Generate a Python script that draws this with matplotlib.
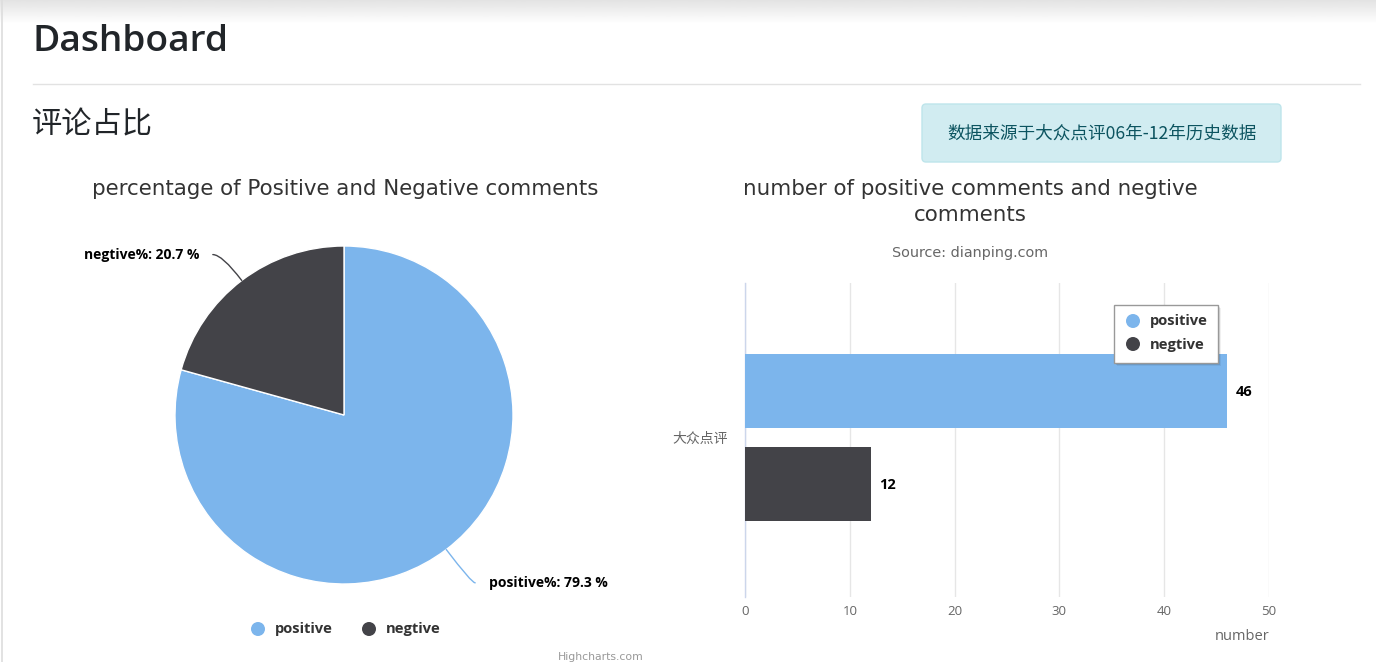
import matplotlib
matplotlib.use('Agg')
import matplotlib.pyplot as plt
import numpy as np
from matplotlib.patches import FancyBboxPatch, Rectangle, Circle

# ---------------- data ----------------
category_labels = ['大众点评']
series_names = ['positive', 'negtive']
series_values = [46, 12]
series_colors = ['#7cb5ec', '#434348']
pie_label_names = ['positive%', 'negtive%']
x_ticks = [0, 10, 20, 30, 40, 50]

page_title = 'Dashboard'
section_title = '评论占比'
info_text = '数据来源于大众点评06年-12年历史数据'
pie_title = 'percentage of Positive and Negative comments'
bar_title_lines = ['number of positive comments and negtive', 'comments']
bar_subtitle = 'Source: dianping.com'
bar_axis_title = 'number'
credit_text = 'Highcharts.com'

plt.rcParams['font.family'] = ['Open Sans', 'Noto Sans CJK SC', 'DejaVu Sans']
CJK = ['Noto Sans CJK SC', 'DejaVu Sans']
TITLEF = ['DejaVu Sans']

W, H = 1376, 662
fig = plt.figure(figsize=(W / 100, H / 100), dpi=100)
fig.patch.set_facecolor('white')


def fx(px):
    return px / W


def fy(py):
    return 1 - py / H


# ---------------- pie chart ----------------
R = 169
cx, cy = 344, 415
pie_ax = fig.add_axes([fx(cx - R), fy(cy + R), 2 * R / W, 2 * R / H])
wedges, _ = pie_ax.pie(series_values, colors=series_colors, startangle=90,
                       counterclock=False,
                       wedgeprops=dict(edgecolor='white', linewidth=1))
pie_ax.set_xlim(-1, 1)
pie_ax.set_ylim(-1, 1)
total = float(sum(series_values))
for w, name, v in zip(wedges, pie_label_names, series_values):
    mid_deg = (w.theta1 + w.theta2) / 2
    mid = np.deg2rad(mid_deg)
    ex, ey = np.cos(mid), np.sin(mid)
    side = 1 if ex > 0 else -1
    lx, ly = 1.2 * ex + side * 0.05, 1.22 * ey - 0.022
    pie_ax.annotate('', xy=(ex, ey), xytext=(lx, ly),
                    arrowprops=dict(arrowstyle='-', color=w.get_facecolor(), lw=1,
                                    shrinkA=0, shrinkB=0,
                                    connectionstyle='angle3,angleA=0,angleB=%f' % mid_deg),
                    annotation_clip=False)
    pie_ax.text(lx + side * 0.08, ly, f'{name}: {v / total * 100:.1f} %',
                ha='left' if side > 0 else 'right', va='center',
                fontsize=10, fontweight='bold', color='black')

# ---------------- bar chart ----------------
bx0, bx1, by0, by1 = 745, 1269, 283, 597
bar_ax = fig.add_axes([fx(bx0), fy(by1), (bx1 - bx0) / W, (by1 - by0) / H])
n = len(series_values)
bar_h = 0.236
offsets = (np.arange(n) - (n - 1) / 2) * 0.296
for i in range(n):
    bar_ax.barh(0 + offsets[i], series_values[i], height=bar_h,
                color=series_colors[i], zorder=3)
    bar_ax.annotate(str(series_values[i]), xy=(series_values[i], offsets[i]),
                    xytext=(6, -1), textcoords='offset points',
                    ha='left', va='center', fontsize=10.5, fontweight='bold',
                    color='black')
bar_ax.set_xlim(x_ticks[0], x_ticks[-1])
bar_ax.set_ylim(0.5 + 0.008, -0.5 + 0.008)
bar_ax.set_xticks(x_ticks)
bar_ax.set_xticklabels([str(t) for t in x_ticks], fontsize=9.5, color='#666666')
bar_ax.set_yticks([0])
bar_ax.set_yticklabels(category_labels, fontsize=10, color='#666666', family=CJK)
bar_ax.tick_params(axis='both', length=0)
bar_ax.tick_params(axis='x', pad=6)
bar_ax.tick_params(axis='y', pad=12)
bar_ax.grid(axis='x', color='#e6e6e6', lw=1, zorder=0)
bar_ax.set_axisbelow(True)
for s in ['top', 'right', 'bottom']:
    bar_ax.spines[s].set_visible(False)
bar_ax.spines['left'].set_color('#ccd6eb')
bar_ax.spines['left'].set_linewidth(1)
bar_ax.set_facecolor('none')

# ---------------- overlay (page elements) ----------------
ov = fig.add_axes([0, 0, 1, 1], zorder=10)
ov.set_xlim(0, W)
ov.set_ylim(H, 0)
ov.axis('off')
ov.patch.set_alpha(0)

# top shadow gradient
grad = np.linspace(0.89, 1.0, 40).reshape(-1, 1)
ov.imshow(grad, cmap='gray', vmin=0, vmax=1, extent=[0, W, 24, 0], aspect='auto', zorder=0)
ov.plot([1.5, 1.5], [0, H], color='#dddddd', lw=1.2)

ov.text(32, 42, page_title, fontsize=26.7, fontweight='semibold', color='#212529',
        ha='left', va='center', family=['Open Sans', 'DejaVu Sans'])
ov.plot([33, 1360], [83.5, 83.5], color='#e2e2e2', lw=1)
ov.text(32, 125, section_title, fontsize=21.8, color='#212529', ha='left', va='center',
        family=CJK)

box = FancyBboxPatch((922, 104), 359, 58, boxstyle='round,pad=0,rounding_size=4',
                     facecolor='#d1ecf1', edgecolor='#bee5eb', lw=1)
ov.add_patch(box)
ov.text(1101.5, 134, info_text, fontsize=12.7, color='#0c5460', ha='center', va='center',
        family=CJK)

ov.text(345, 189, pie_title, fontsize=15.4, color='#333333', ha='center', va='center',
        family=TITLEF)
for k, line in enumerate(bar_title_lines):
    ov.text(970, 189 + 26 * k, line, fontsize=15.4, color='#333333', ha='center',
            va='center', family=TITLEF)
ov.text(970, 253, bar_subtitle, fontsize=10.4, color='#666666', ha='center', va='center',
        family=TITLEF)
ov.text(1269, 636, bar_axis_title, fontsize=10.5, color='#666666', ha='right', va='center')
ov.text(601, 657, credit_text, fontsize=7.8, color='#999999', ha='center', va='center',
        family=TITLEF)

# pie legend
leg_x = [258, 369]
for xx, name, col in zip(leg_x, series_names, series_colors):
    ov.add_patch(Circle((xx, 629), 7, facecolor=col, edgecolor='none'))
    ov.text(xx + 17, 629.5, name, fontsize=10.6, fontweight='bold', color='#333333',
            ha='left', va='center')

# bar legend box with shadow
for k, a in [(3, 0.06), (2, 0.1), (1, 0.15)]:
    ov.add_patch(Rectangle((1114 + k, 305 + k), 104, 58, facecolor='black', alpha=a,
                           edgecolor='none'))
ov.add_patch(Rectangle((1114, 305), 104, 58, facecolor='white', edgecolor='#999999', lw=1))
leg_y = [321, 344]
for yy, name, col in zip(leg_y, series_names, series_colors):
    ov.add_patch(Circle((1133, yy), 7, facecolor=col, edgecolor='none'))
    ov.text(1150, yy + 0.5, name, fontsize=10.6, fontweight='bold', color='#333333',
            ha='left', va='center')

fig.savefig('out.png', dpi=100, facecolor='white')
